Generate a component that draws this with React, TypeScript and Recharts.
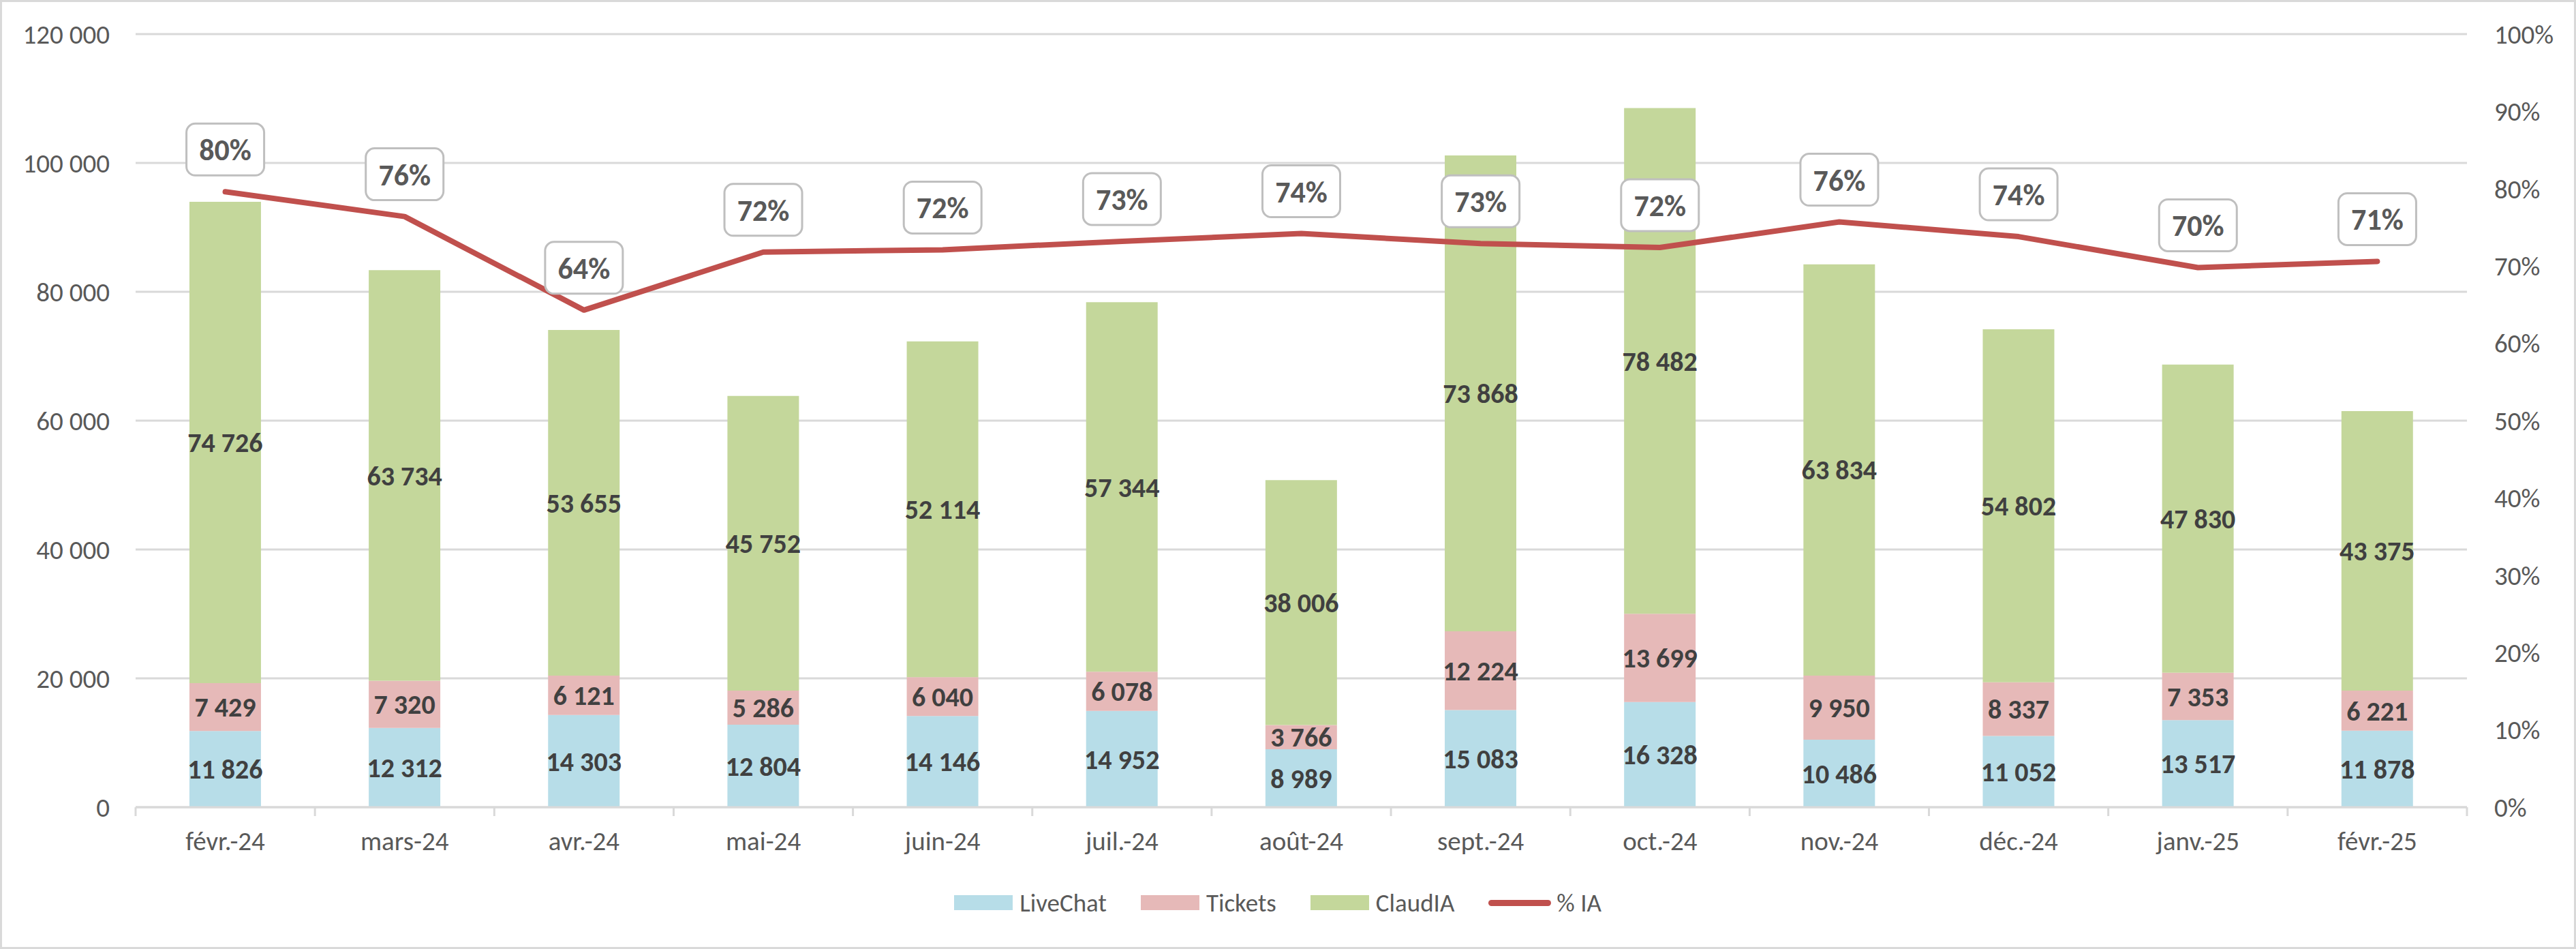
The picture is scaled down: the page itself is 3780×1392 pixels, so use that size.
import React from 'react';
import { ComposedChart, Bar, Line, XAxis, YAxis, CartesianGrid, Legend, LabelList } from 'recharts';

const months = ['févr.-24', 'mars-24', 'avr.-24', 'mai-24', 'juin-24', 'juil.-24', 'août-24', 'sept.-24', 'oct.-24', 'nov.-24', 'déc.-24', 'janv.-25', 'févr.-25'];
const liveChat = [11826, 12312, 14303, 12804, 14146, 14952, 8989, 15083, 16328, 10486, 11052, 13517, 11878];
const tickets = [7429, 7320, 6121, 5286, 6040, 6078, 3766, 12224, 13699, 9950, 8337, 7353, 6221];
const claudIA = [74726, 63734, 53655, 45752, 52114, 57344, 38006, 73868, 78482, 63834, 54802, 47830, 43375];
// % IA (labels are rounded)
const pctIA = [79.6, 76.4, 64.3, 71.8, 72.1, 73.2, 74.2, 72.9, 72.4, 75.7, 73.8, 69.8, 70.6];

const leftTicks = [0, 20000, 40000, 60000, 80000, 100000, 120000];
const rightTicks = [0, 10, 20, 30, 40, 50, 60, 70, 80, 90, 100];

const legendItems = [
  { name: 'LiveChat', color: '#B7DDE8', kind: 'bar' },
  { name: 'Tickets', color: '#E6B9B8', kind: 'bar' },
  { name: 'ClaudIA', color: '#C4D79B', kind: 'bar' },
  { name: '% IA', color: '#C0504D', kind: 'line' },
];

const data = months.map((month, i) => ({
  month,
  liveChat: liveChat[i],
  tickets: tickets[i],
  claudIA: claudIA[i],
  pct: pctIA[i],
}));

const FONT = "Carlito, Calibri, 'Liberation Sans Narrow', 'Liberation Sans', sans-serif";
const CHART_W = 3774;
const CHART_H = 1386;
const LEFT_W = 196;
const RIGHT_W = 157;
const XAXIS_H = 205;
const BAND = (CHART_W - LEFT_W - RIGHT_W) / months.length;

const fmt = (v: number) => String(v).replace(/\B(?=(\d{3})+(?!\d))/g, ' ');

const MonthTick = (props: any) => {
  const { x, y, payload, index } = props;
  const half = BAND / 2;
  return (
    <g>
      <line x1={x - half} x2={x - half} y1={y} y2={y + 13} stroke="#D9D9D9" strokeWidth={3} />
      {index === months.length - 1 && (
        <line x1={x + half} x2={x + half} y1={y} y2={y + 13} stroke="#D9D9D9" strokeWidth={3} />
      )}
      <text x={x} y={y + 63} textAnchor="middle" fill="#595959" fontSize={39}>
        {payload.value}
      </text>
    </g>
  );
};

const PctLabel = (props: any) => {
  const { x, y, value } = props;
  if (x == null || y == null) return null;
  return (
    <g>
      <rect x={x - 57} y={y - 100} width={114} height={76} rx={13} ry={13} fill="#FFFFFF" stroke="#BFBFBF" strokeWidth={3} />
      <text x={x} y={y - 61} textAnchor="middle" dominantBaseline="central" fill="#595959" fontSize={44} fontWeight="bold">
        {Math.round(value)}%
      </text>
    </g>
  );
};

const LegendContent = () => (
  <div
    style={{
      display: 'flex',
      justifyContent: 'center',
      alignItems: 'center',
      height: 44,
      fontSize: 37,
      color: '#595959',
      paddingLeft: 20,
    }}
  >
    {legendItems.map((it) => (
      <div key={it.name} style={{ display: 'flex', alignItems: 'center', marginRight: 50 }}>
        {it.kind === 'bar' ? (
          <div style={{ width: 86, height: 22, background: it.color, marginRight: 10 }} />
        ) : (
          <div style={{ width: 92, height: 9, borderRadius: 5, background: it.color, marginRight: 8 }} />
        )}
        <span>{it.name}</span>
      </div>
    ))}
  </div>
);

export default function App() {
  return (
    <div
      style={{
        position: 'absolute',
        left: 0,
        top: 0,
        width: 3780,
        height: 1392,
        boxSizing: 'border-box',
        border: '3px solid #D9D9D9',
        background: '#FFFFFF',
        fontFamily: FONT,
      }}
    >
      <ComposedChart
        width={CHART_W}
        height={CHART_H}
        data={data}
        margin={{ top: 47, right: 0, bottom: 0, left: 0 }}
        barCategoryGap="30%"
      >
        <CartesianGrid yAxisId="left" vertical={false} stroke="#D9D9D9" strokeWidth={3} />
        <XAxis
          dataKey="month"
          height={XAXIS_H}
          axisLine={{ stroke: '#D9D9D9', strokeWidth: 3 }}
          tickLine={false}
          tickSize={0}
          tickMargin={0}
          interval={0}
          tick={<MonthTick />}
        />
        <YAxis
          yAxisId="left"
          width={LEFT_W}
          domain={[0, 120000]}
          ticks={leftTicks}
          tickFormatter={fmt}
          axisLine={false}
          tickLine={false}
          tickSize={0}
          tickMargin={38}
          tick={{ fill: '#595959', fontSize: 39 }}
        />
        <YAxis
          yAxisId="right"
          orientation="right"
          width={RIGHT_W}
          domain={[0, 100]}
          ticks={rightTicks}
          tickFormatter={(v: number) => `${v}%`}
          axisLine={false}
          tickLine={false}
          tickSize={0}
          tickMargin={40}
          tick={{ fill: '#595959', fontSize: 39 }}
        />
        <Bar yAxisId="left" dataKey="liveChat" name="LiveChat" stackId="a" fill="#B7DDE8" isAnimationActive={false}>
          <LabelList dataKey="liveChat" position="center" formatter={fmt} fill="#404040" fontSize={40} fontWeight="bold" />
        </Bar>
        <Bar yAxisId="left" dataKey="tickets" name="Tickets" stackId="a" fill="#E6B9B8" isAnimationActive={false}>
          <LabelList dataKey="tickets" position="center" formatter={fmt} fill="#404040" fontSize={40} fontWeight="bold" />
        </Bar>
        <Bar yAxisId="left" dataKey="claudIA" name="ClaudIA" stackId="a" fill="#C4D79B" isAnimationActive={false}>
          <LabelList dataKey="claudIA" position="center" formatter={fmt} fill="#404040" fontSize={40} fontWeight="bold" />
        </Bar>
        <Line
          yAxisId="right"
          type="linear"
          dataKey="pct"
          name="% IA"
          stroke="#C0504D"
          strokeWidth={8}
          strokeLinecap="round"
          strokeLinejoin="round"
          dot={false}
          activeDot={false}
          isAnimationActive={false}
          label={(p: any) => <PctLabel {...p} />}
        />
        <Legend
          verticalAlign="middle"
          align="center"
          content={<LegendContent />}
          wrapperStyle={{ top: 1299, left: 0, width: CHART_W }}
        />
      </ComposedChart>
    </div>
  );
}
